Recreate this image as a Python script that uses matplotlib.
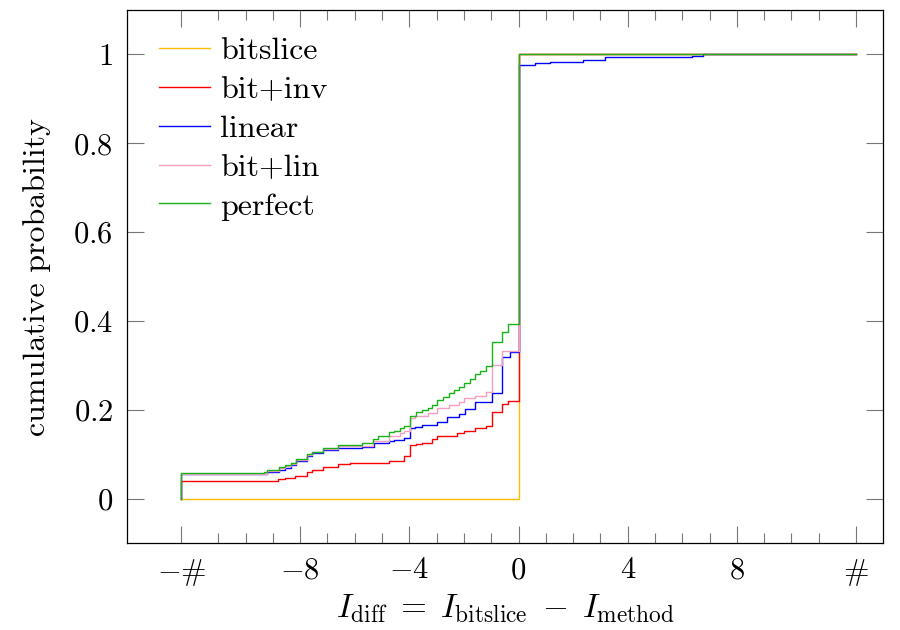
import matplotlib
matplotlib.use("Agg")
import matplotlib.pyplot as plt
from matplotlib.ticker import FixedLocator

plt.rcParams['font.family'] = ['cmr10', 'DejaVu Serif']
plt.rcParams['mathtext.fontset'] = 'cm'
plt.rcParams['axes.unicode_minus'] = False
plt.rcParams['axes.formatter.use_mathtext'] = True

HASH = 12.35  # position of the '#' tick (clipped tails)

# ---- data: step positions and cumulative probability after each step ----
series_names = ["bitslice", "bit+inv", "linear", "bit+lin", "perfect"]
series_colors = ["#FFBF00", "#FF0000", "#0000FF", "#F4A0C0", "#19B219"]

bitslice_start = 0.0
bitslice_x = [0.0]
bitslice_y = [1.0]

bitinv_start = 0.040
bitinv_x = [-8.80, -8.56, -8.19, -7.75, -7.57, -7.17, -6.60, -6.18, -4.76, -4.18,
            -3.99, -3.75, -3.54, -3.17, -2.97, -2.26, -1.99, -1.59, -1.19, -0.97,
            -0.59, -0.40, 0.0]
bitinv_y = [0.044, 0.047, 0.052, 0.061, 0.065, 0.072, 0.079, 0.080, 0.085, 0.095,
            0.120, 0.123, 0.126, 0.134, 0.140, 0.147, 0.153, 0.159, 0.164, 0.194,
            0.213, 0.220, 1.0]

linear_start = 0.056
linear_x = [-9.22, -8.76, -8.57, -8.34, -8.17, -7.75, -7.57, -7.17, -6.60, -5.74,
            -5.30, -4.76, -4.58, -4.18, -3.99, -3.78, -3.54, -2.99, -2.63, -2.17,
            -1.98, -1.59, -0.97, -0.59, -0.30, 0.0, 0.61, 1.16, 2.37, 3.18,
            6.35, 6.77]
linear_y = [0.060, 0.064, 0.070, 0.076, 0.085, 0.095, 0.103, 0.110, 0.115, 0.117,
            0.125, 0.129, 0.132, 0.136, 0.159, 0.162, 0.165, 0.173, 0.183, 0.191,
            0.201, 0.218, 0.237, 0.319, 0.331, 0.976, 0.980, 0.984, 0.988, 0.9935,
            0.997, 1.0]

bitlin_start = 0.056
bitlin_x = [-9.22, -8.76, -8.57, -8.34, -8.17, -7.75, -7.57, -7.17, -6.60, -5.35,
            -4.74, -4.33, -4.18, -3.99, -3.78, -3.33, -2.99, -2.56, -2.17, -1.99,
            -1.59, -1.19, -0.97, -0.59, 0.0]
bitlin_y = [0.062, 0.068, 0.073, 0.078, 0.087, 0.098, 0.104, 0.112, 0.119, 0.129,
            0.140, 0.147, 0.153, 0.181, 0.185, 0.192, 0.204, 0.211, 0.218, 0.226,
            0.231, 0.241, 0.301, 0.333, 1.0]

perfect_start = 0.058
perfect_x = [-9.34, -9.22, -8.76, -8.57, -8.34, -8.17, -7.75, -7.57, -7.17, -6.60,
             -5.74, -5.35, -5.15, -4.74, -4.58, -4.33, -4.18, -3.99, -3.75, -3.54,
             -3.33, -3.17, -2.97, -2.75, -2.56, -2.38, -2.17, -1.99, -1.77, -1.59,
             -1.40, -1.19, -0.97, -0.59, -0.40, 0.0]
perfect_y = [0.061, 0.064, 0.072, 0.076, 0.081, 0.089, 0.100, 0.106, 0.114, 0.121,
             0.126, 0.134, 0.140, 0.149, 0.153, 0.159, 0.164, 0.187, 0.196, 0.200,
             0.204, 0.211, 0.222, 0.228, 0.237, 0.245, 0.251, 0.261, 0.269, 0.281,
             0.288, 0.299, 0.352, 0.376, 0.393, 1.0]

x_ticks = [-HASH, -8, -4, 0, 4, 8, HASH]
x_ticklabels = [r'$-\#$', r'$-8$', r'$-4$', r'$0$', r'$4$', r'$8$', r'$\#$']
x_minor = [v for v in range(-11, 12) if v % 4 != 0]
y_ticks = [0, 0.2, 0.4, 0.6, 0.8, 1.0]
y_ticklabels = [r'$0$', r'$0.2$', r'$0.4$', r'$0.6$', r'$0.8$', r'$1$']

all_series = [
    (bitslice_start, bitslice_x, bitslice_y),
    (bitinv_start, bitinv_x, bitinv_y),
    (linear_start, linear_x, linear_y),
    (bitlin_start, bitlin_x, bitlin_y),
    (perfect_start, perfect_x, perfect_y),
]

fig = plt.figure(figsize=(9, 6.3), dpi=100)
ax = fig.add_axes([0.141, 0.138, 0.840, 0.846])

for (start, xs, ys), name, col in zip(all_series, series_names, series_colors):
    px = [-HASH, -HASH] + xs + [HASH]
    py = [0.0, start] + ys + [ys[-1]]
    ax.step(px, py, where='post', color=col, lw=1.0, label=name)

ax.set_xlim(-HASH - 2, HASH + 1)
ax.set_ylim(-0.1, 1.1)
ax.xaxis.set_major_locator(FixedLocator(x_ticks))
ax.set_xticklabels(x_ticklabels)
ax.xaxis.set_minor_locator(FixedLocator(x_minor))
ax.set_yticks(y_ticks)
ax.set_yticklabels(y_ticklabels)

ax.tick_params(axis='both', which='both', direction='in', top=True, right=True,
               color='#777777', width=0.8, labelsize=22)
ax.tick_params(axis='x', which='major', length=12, pad=10)
ax.tick_params(axis='y', which='major', length=12, pad=10)
ax.tick_params(axis='both', which='minor', length=7)
for s in ax.spines.values():
    s.set_linewidth(0.9)

ax.set_xlabel(r'$I_{\mathrm{diff}} \;=\; I_{\mathrm{bitslice}} \;-\; I_{\mathrm{method}}$',
              fontsize=24, labelpad=3)
ax.set_ylabel('cumulative probability', fontsize=23, labelpad=16)

leg = ax.legend(loc='upper left', bbox_to_anchor=(0.009, 0.998), frameon=False,
                fontsize=23, handlelength=1.6, handletextpad=0.3, labelspacing=0.33,
                borderaxespad=0.3, borderpad=0.5)

fig.savefig('out.png', dpi=100)
